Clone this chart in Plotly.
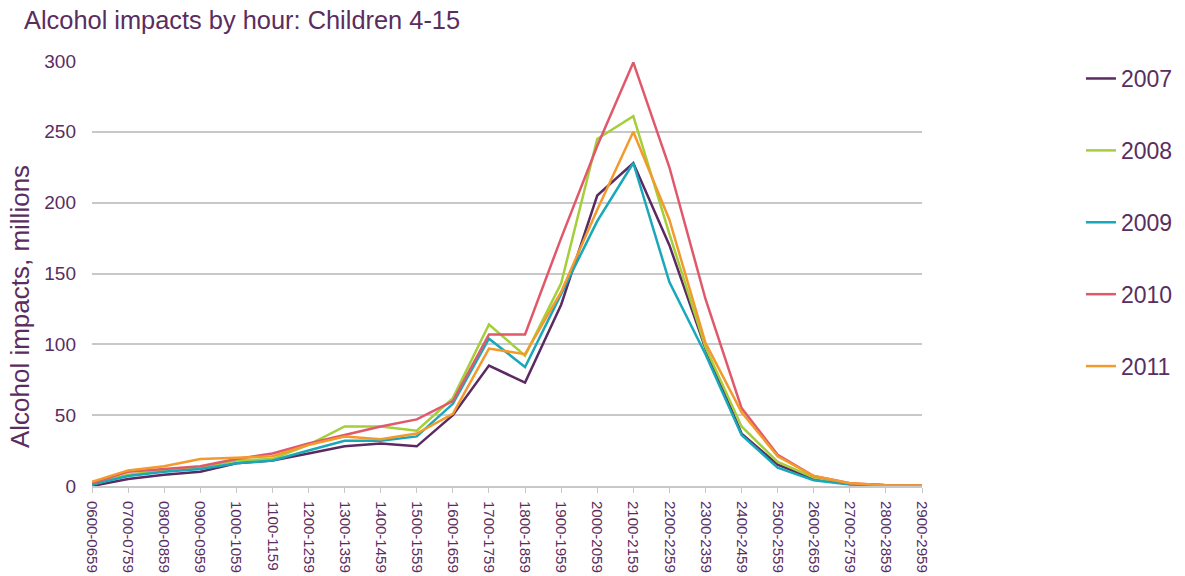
import plotly.graph_objects as go

hours = ["0600-0659", "0700-0759", "0800-0859", "0900-0959", "1000-1059", "1100-1159",
         "1200-1259", "1300-1359", "1400-1459", "1500-1559", "1600-1659", "1700-1759",
         "1800-1859", "1900-1959", "2000-2059", "2100-2159", "2200-2259", "2300-2359",
         "2400-2459", "2500-2559", "2600-2659", "2700-2759", "2800-2859", "2900-2959"]

y2007 = [0, 5, 8, 10, 16, 18, 23, 28, 30, 28, 50, 85, 73, 128, 205, 228, 170, 97, 37, 15, 5, 1.5, 0.5, 0]
y2008 = [1, 8, 11, 13, 18, 19, 29, 42, 42, 39, 62, 114, 92, 143, 245, 261, 178, 98, 42, 17, 6, 1.5, 0.5, 0]
y2009 = [1, 7, 10, 12, 16, 18, 25, 32, 32, 35, 58, 104, 84, 135, 187, 228, 144, 93, 36, 13, 4, 1, 0.3, 0]
y2010 = [2, 10, 12, 14, 19, 23, 30, 36, 42, 47, 60, 107, 107, 175, 240, 299, 225, 132, 55, 22, 7, 2, 0.5, 0.2]
y2011 = [3, 11, 14, 19, 20, 21, 29, 35, 33, 37, 51, 97, 93, 137, 195, 250, 188, 101, 52, 21, 7, 2, 0.5, 0.3]

series = [("2007", y2007, "#5b2a63"),
          ("2008", y2008, "#a4cf3a"),
          ("2009", y2009, "#19a8ba"),
          ("2010", y2010, "#e0596b"),
          ("2011", y2011, "#f39a2c")]

text_col = "#5a2d5f"
fig = go.Figure()
for name, ys, col in series:
    fig.add_trace(go.Scatter(x=list(range(len(hours))), y=ys, mode="lines", name=name,
                             legendgroup=name, line=dict(color=col, width=2.5)))

fig.update_layout(
    width=1185, height=576,
    margin=dict(l=92, r=263, t=61, b=90, autoexpand=False),
    paper_bgcolor="white", plot_bgcolor="white",
    font=dict(family="Liberation Sans, Arial, sans-serif", color=text_col),
    showlegend=True,
    legend=dict(xref="container", yref="container", x=0.9122, xanchor="left",
                y=0.901, yanchor="top",
                font=dict(size=23, color=text_col), tracegroupgap=39,
                itemwidth=30, maxheight=540),
    annotations=[
        dict(text="Alcohol impacts by hour: Children 4-15", xref="paper", yref="paper",
             x=-0.0843, y=1.0965, xanchor="left", yanchor="middle", showarrow=False,
             font=dict(size=25.4, color=text_col)),
        dict(text="Alcohol impacts, millions", xref="paper", yref="paper",
             x=-0.0867, y=0.421, xanchor="center", yanchor="middle", textangle=-90,
             showarrow=False, font=dict(size=26, color=text_col)),
    ],
)
fig.update_xaxes(range=[0, 23], tickmode="array", tickvals=list(range(len(hours))),
                 ticktext=hours, tickangle=90, tickfont=dict(size=15, color=text_col),
                 showgrid=False, showline=True, linecolor="#c8c8c8", linewidth=2,
                 ticks="outside", ticklen=5, tickcolor="#c8c8c8", zeroline=False,
                 automargin=False, ticklabelstandoff=5)
fig.update_yaxes(range=[0, 300], tickvals=[0, 50, 100, 150, 200, 250, 300],
                 tickfont=dict(size=19, color=text_col), showgrid=True,
                 gridcolor="#c8c8c8", gridwidth=2, zeroline=False, showline=False,
                 ticks="", ticklabelstandoff=15, automargin=False)

fig.write_html("out.html", config={"displayModeBar": False},
               post_script="document.body.style.margin='0px';")
